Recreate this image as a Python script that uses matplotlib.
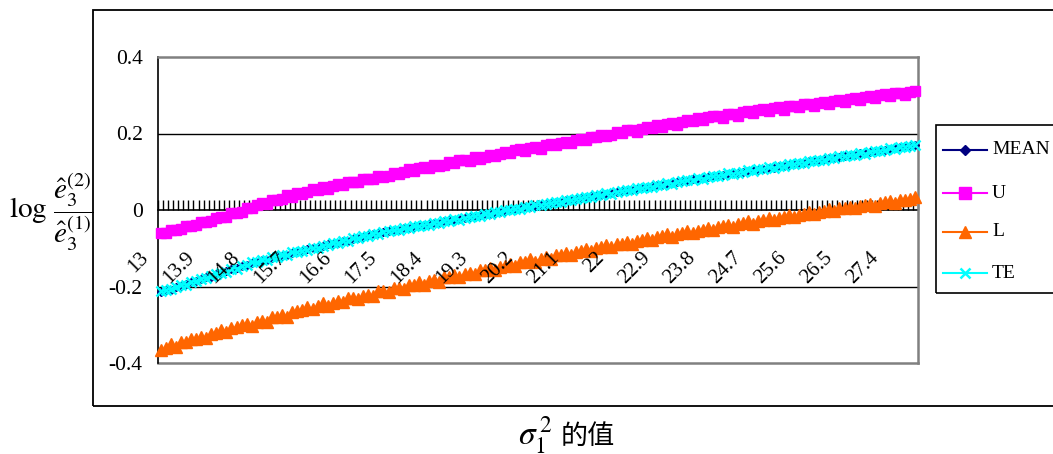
import matplotlib
matplotlib.use("Agg")
import matplotlib.pyplot as plt
from matplotlib.lines import Line2D
from matplotlib.patches import Rectangle
from matplotlib.transforms import ScaledTranslation
import numpy as np

plt.rcParams["font.family"] = ["Liberation Serif", "DejaVu Serif"]
plt.rcParams["mathtext.fontset"] = "stix"

# sigma_1^2 categories: 13.0 .. 27.9 in steps of 0.1
sigma_sq = [round(v / 10, 1) for v in range(130, 280)]
label_every = 9

mean_vals = [
    -0.215, -0.209, -0.208, -0.201, -0.198, -0.194, -0.189, -0.185, -0.181, -0.176,
    -0.174, -0.167, -0.165, -0.160, -0.155, -0.152, -0.147, -0.144, -0.138, -0.136,
    -0.131, -0.130, -0.125, -0.121, -0.119, -0.117, -0.112, -0.109, -0.107, -0.103,
    -0.100, -0.098, -0.094, -0.090, -0.088, -0.085, -0.081, -0.080, -0.075, -0.072,
    -0.070, -0.066, -0.063, -0.061, -0.058, -0.055, -0.054, -0.051, -0.048, -0.047,
    -0.044, -0.041, -0.040, -0.037, -0.034, -0.033, -0.030, -0.027, -0.025, -0.024,
    -0.021, -0.018, -0.017, -0.014, -0.011, -0.010, -0.007, -0.004, -0.002, 0.000,
    0.002, 0.004, 0.007, 0.008, 0.011, 0.014, 0.015, 0.018, 0.021, 0.022,
    0.025, 0.026, 0.029, 0.032, 0.033, 0.036, 0.037, 0.040, 0.043, 0.044,
    0.047, 0.050, 0.051, 0.053, 0.056, 0.058, 0.059, 0.062, 0.065, 0.066,
    0.069, 0.070, 0.073, 0.076, 0.077, 0.080, 0.082, 0.083, 0.086, 0.089,
    0.089, 0.092, 0.095, 0.096, 0.097, 0.100, 0.103, 0.104, 0.105, 0.108,
    0.111, 0.111, 0.115, 0.116, 0.118, 0.121, 0.123, 0.124, 0.127, 0.130,
    0.130, 0.133, 0.136, 0.136, 0.139, 0.142, 0.142, 0.145, 0.148, 0.148,
    0.151, 0.154, 0.154, 0.158, 0.160, 0.161, 0.164, 0.167, 0.167, 0.170,
]

upper_vals = [
    -0.060, -0.061, -0.052, -0.053, -0.050, -0.041, -0.043, -0.039, -0.031, -0.032,
    -0.028, -0.022, -0.019, -0.018, -0.008, -0.008, -0.006, 0.006, 0.004, 0.012,
    0.019, 0.016, 0.027, 0.026, 0.029, 0.038, 0.035, 0.044, 0.042, 0.047,
    0.054, 0.053, 0.060, 0.055, 0.062, 0.068, 0.065, 0.074, 0.073, 0.072,
    0.082, 0.081, 0.080, 0.090, 0.087, 0.090, 0.096, 0.093, 0.100, 0.106,
    0.101, 0.109, 0.113, 0.110, 0.118, 0.116, 0.117, 0.126, 0.123, 0.131,
    0.132, 0.129, 0.139, 0.134, 0.138, 0.145, 0.142, 0.146, 0.152, 0.149,
    0.157, 0.159, 0.153, 0.162, 0.166, 0.160, 0.169, 0.172, 0.169, 0.175,
    0.179, 0.174, 0.182, 0.185, 0.182, 0.190, 0.192, 0.196, 0.193, 0.195,
    0.203, 0.201, 0.208, 0.210, 0.204, 0.213, 0.216, 0.214, 0.222, 0.217,
    0.226, 0.228, 0.222, 0.231, 0.234, 0.232, 0.240, 0.235, 0.243, 0.245,
    0.247, 0.241, 0.251, 0.252, 0.246, 0.256, 0.258, 0.253, 0.261, 0.263,
    0.258, 0.266, 0.268, 0.262, 0.271, 0.273, 0.268, 0.276, 0.278, 0.272,
    0.281, 0.283, 0.277, 0.286, 0.288, 0.282, 0.291, 0.293, 0.287, 0.296,
    0.298, 0.292, 0.301, 0.303, 0.297, 0.306, 0.307, 0.300, 0.309, 0.311,
]

lower_vals = [
    -0.365, -0.362, -0.350, -0.357, -0.346, -0.345, -0.336, -0.338, -0.331, -0.334,
    -0.324, -0.322, -0.314, -0.320, -0.309, -0.306, -0.301, -0.298, -0.302, -0.292,
    -0.289, -0.293, -0.279, -0.281, -0.275, -0.279, -0.266, -0.264, -0.262, -0.254,
    -0.260, -0.252, -0.244, -0.251, -0.242, -0.238, -0.241, -0.230, -0.229, -0.233,
    -0.224, -0.221, -0.224, -0.212, -0.211, -0.215, -0.204, -0.203, -0.207, -0.195,
    -0.196, -0.189, -0.195, -0.186, -0.183, -0.187, -0.176, -0.176, -0.170, -0.176,
    -0.167, -0.164, -0.168, -0.157, -0.157, -0.151, -0.157, -0.148, -0.146, -0.140,
    -0.146, -0.137, -0.135, -0.129, -0.135, -0.127, -0.124, -0.128, -0.118, -0.118,
    -0.112, -0.118, -0.110, -0.108, -0.102, -0.108, -0.100, -0.098, -0.092, -0.098,
    -0.090, -0.088, -0.083, -0.089, -0.081, -0.079, -0.073, -0.079, -0.071, -0.069,
    -0.064, -0.070, -0.062, -0.060, -0.055, -0.061, -0.054, -0.052, -0.047, -0.053,
    -0.045, -0.043, -0.038, -0.044, -0.037, -0.035, -0.030, -0.036, -0.028, -0.026,
    -0.022, -0.027, -0.020, -0.018, -0.014, -0.019, -0.012, -0.010, -0.006, -0.011,
    -0.004, -0.002, 0.002, -0.003, 0.004, 0.006, 0.009, 0.004, 0.011, 0.013,
    0.016, 0.011, 0.018, 0.020, 0.023, 0.018, 0.025, 0.027, 0.029, 0.035,
]

te_vals = [
    -0.213, -0.210, -0.206, -0.202, -0.197, -0.195, -0.188, -0.186, -0.180, -0.177,
    -0.172, -0.168, -0.164, -0.161, -0.154, -0.153, -0.146, -0.145, -0.137, -0.137,
    -0.130, -0.131, -0.124, -0.122, -0.118, -0.118, -0.111, -0.110, -0.106, -0.104,
    -0.099, -0.099, -0.093, -0.091, -0.087, -0.086, -0.080, -0.081, -0.074, -0.073,
    -0.069, -0.067, -0.062, -0.062, -0.057, -0.056, -0.053, -0.052, -0.047, -0.048,
    -0.043, -0.042, -0.039, -0.038, -0.033, -0.034, -0.029, -0.028, -0.024, -0.025,
    -0.020, -0.019, -0.016, -0.015, -0.010, -0.011, -0.006, -0.005, -0.001, -0.001,
    0.003, 0.003, 0.008, 0.007, 0.012, 0.013, 0.016, 0.017, 0.022, 0.021,
    0.026, 0.025, 0.030, 0.031, 0.034, 0.035, 0.038, 0.039, 0.044, 0.043,
    0.048, 0.049, 0.052, 0.052, 0.057, 0.057, 0.060, 0.061, 0.066, 0.065,
    0.070, 0.069, 0.074, 0.075, 0.078, 0.079, 0.083, 0.082, 0.087, 0.088,
    0.090, 0.091, 0.096, 0.095, 0.098, 0.099, 0.104, 0.103, 0.106, 0.107,
    0.112, 0.110, 0.116, 0.115, 0.119, 0.120, 0.124, 0.123, 0.128, 0.129,
    0.131, 0.132, 0.137, 0.135, 0.140, 0.141, 0.143, 0.144, 0.149, 0.147,
    0.152, 0.153, 0.155, 0.157, 0.161, 0.160, 0.165, 0.166, 0.168, 0.171,
]

y_ticks = [-0.4, -0.2, 0.0, 0.2, 0.4]
y_tick_labels = ["-0.4", "-0.2", "0", "0.2", "0.4"]

series = [
    ("MEAN", mean_vals, "#000080", "D", 4.5, 1.0),
    ("U", upper_vals, "#FF00FF", "s", 7.5, 1.0),
    ("L", lower_vals, "#FF6600", "^", 8.5, 1.0),
    ("TE", te_vals, "#00FFFF", "x", 6.5, 1.8),
]

W, H = 1053, 454
fig = plt.figure(figsize=(W / 100, H / 100), dpi=100)


def fx(px):
    return px / W


def fy(py):
    return 1 - py / H


# outer chart frame
fig.add_artist(Rectangle((fx(93), fy(406)), fx(980), 396 / H, fill=False,
                         ec="black", lw=1.3, transform=fig.transFigure))

ax = fig.add_axes([fx(158), fy(363), 760 / W, 306 / H])
n = len(sigma_sq)
x = np.arange(n)
ax.set_xlim(-0.5, n - 0.5)
ax.set_ylim(-0.4, 0.4)

for gy in (0.2, -0.2):
    ax.axhline(gy, color="black", lw=1.0, zorder=1)
ax.axhline(-0.4, color="#808080", lw=1.8, zorder=1, clip_on=False)

for name, vals, col, mk, ms, mew in series:
    ax.plot(x, vals, color=col, lw=1.2, marker=mk, ms=ms, mfc=col, mec=col,
            mew=mew, zorder=3, clip_on=False)

for side in ("top", "right"):
    ax.spines[side].set_color("#808080")
    ax.spines[side].set_linewidth(1.8)
ax.spines["left"].set_color("black")
ax.spines["left"].set_linewidth(1.2)
ax.spines["bottom"].set_position(("data", 0))
ax.spines["bottom"].set_color("black")
ax.spines["bottom"].set_linewidth(1.2)
ax.spines["bottom"].set_zorder(2)

# category boundary ticks along the zero line
ax.set_xticks(np.arange(n + 1) - 0.5)
ax.tick_params(axis="x", direction="in", length=7, width=1, color="black",
               labelbottom=False)

lbl_off = ScaledTranslation(-8 / 100, -38 / 100, fig.dpi_scale_trans)
for i in range(0, n, label_every):
    ax.text(i, 0, f"{sigma_sq[i]:g}", rotation=45, ha="right", va="top",
            fontsize=15, transform=ax.transData + lbl_off)

ax.set_yticks(y_ticks)
ax.set_yticklabels(y_tick_labels)
ax.tick_params(axis="y", length=0, pad=11, labelsize=15.5)

# y-axis title
fig.text(fx(9), fy(212),
         r"$\log\,\dfrac{\hat{e}_3^{(2)}}{\hat{e}_3^{(1)}}$",
         fontsize=21, ha="left", va="center")

# x-axis title
fig.text(fx(518), fy(435), r"$\sigma_1^{\,2}$", fontsize=24,
         ha="left", va="center")
fig.text(fx(561), fy(436), "的值", fontsize=19.5, ha="left", va="center",
         family=["Noto Sans CJK TC", "DejaVu Sans"])

# legend
fig.add_artist(Rectangle((fx(936), fy(293)), fx(140), 168 / H, fill=False,
                         ec="black", lw=1.2, transform=fig.transFigure))
legend_rows = [150, 193, 232, 273]
for (name, vals, col, mk, ms, mew), ry in zip(series, legend_rows):
    fig.add_artist(Line2D([fx(943), fx(987)], [fy(ry), fy(ry)], color=col,
                          lw=1.5, transform=fig.transFigure))
    fig.add_artist(Line2D([fx(965)], [fy(ry)], marker=mk, ms=ms + 0.5, mfc=col,
                          mec=col, mew=mew, transform=fig.transFigure))
    fig.text(fx(992), fy(ry), name, fontsize=14, ha="left", va="center")

fig.savefig("out.png", dpi=100)
